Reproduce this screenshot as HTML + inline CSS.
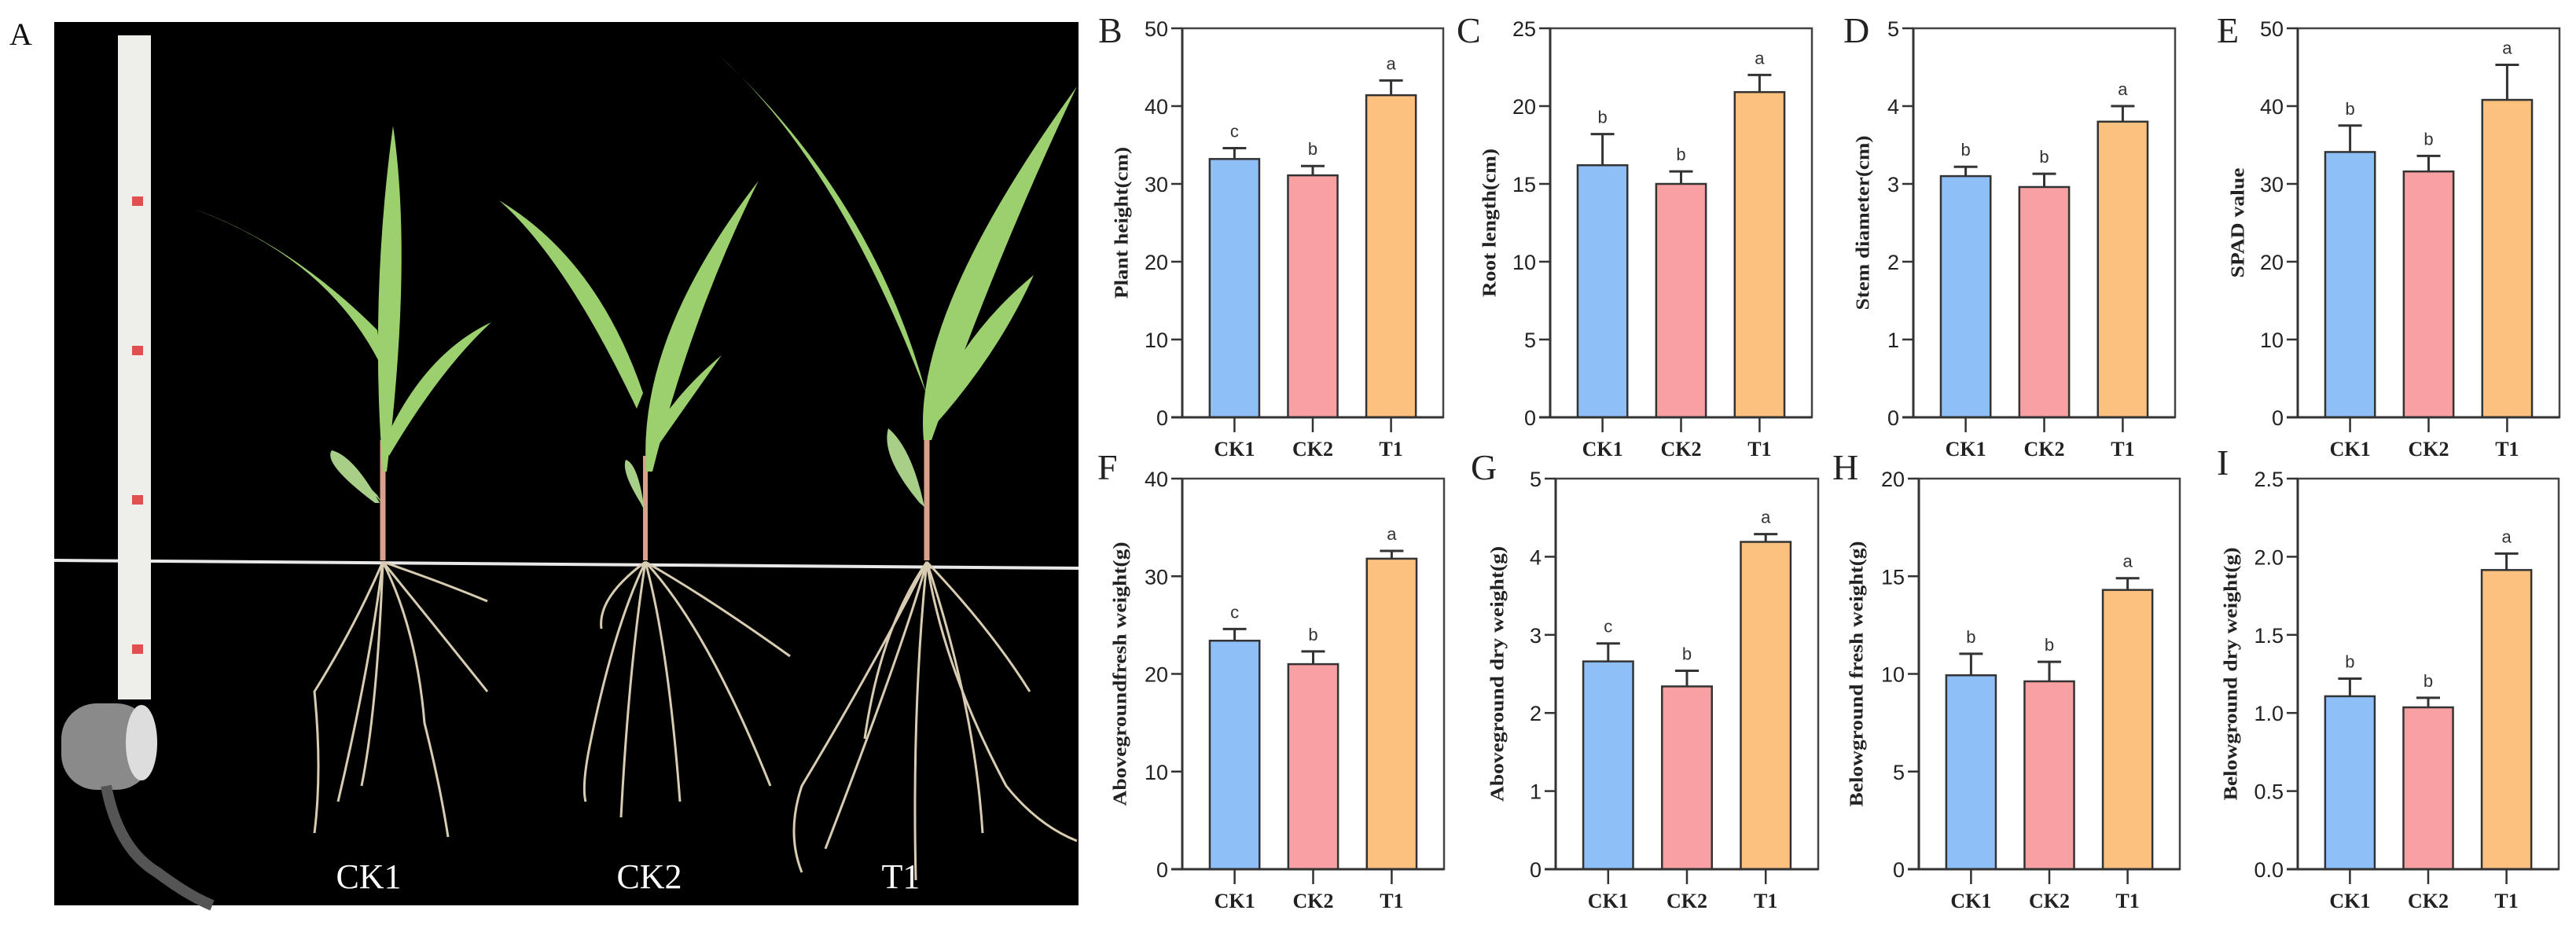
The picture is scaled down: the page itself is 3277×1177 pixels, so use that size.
<!DOCTYPE html>
<html><head><meta charset="utf-8"><style>
html,body{margin:0;padding:0;background:#fff;}
svg{display:block;}
</style></head>
<body>
<svg id="fig" width="3277" height="1177" viewBox="0 0 3277 1177" xmlns="http://www.w3.org/2000/svg">
  <rect x="0" y="0" width="3277" height="1177" fill="#fff"/>
  <!-- Panel A photo -->
  <g>
    <text x="12" y="57" font-family="Liberation Serif, serif" font-size="40" fill="#111">A</text>
    <rect x="69" y="28" width="1303" height="1124" fill="#000"/>
    <line x1="69" y1="713" x2="1372" y2="723" stroke="#e8e8e8" stroke-width="4"/>
    <g>
      <rect x="150" y="45" width="42" height="845" fill="#eeeeea"/>
      <rect x="168" y="250" width="14" height="12" fill="#e05050"/>
      <rect x="168" y="440" width="14" height="12" fill="#e05050"/>
      <rect x="168" y="630" width="14" height="12" fill="#e05050"/>
      <rect x="168" y="820" width="14" height="12" fill="#e05050"/>
      <rect x="78" y="895" width="115" height="110" rx="45" fill="#8a8a8a"/>
      <ellipse cx="180" cy="945" rx="20" ry="48" fill="#ddd"/>
      <path d="M135 1000 Q150 1080 200 1110 Q240 1140 270 1152" stroke="#555" stroke-width="14" fill="none"/>
    </g>
    <g fill="#9ccf6e">
      <path d="M487 713 L487 560" stroke="#d9a08a" stroke-width="7"/>
      <path d="M487 600 Q470 380 500 160 Q525 330 492 600 Z"/>
      <path d="M487 470 Q420 330 247 266 Q370 310 480 420 Z"/>
      <path d="M490 560 Q540 450 625 410 Q560 470 495 580 Z"/>
      <path d="M480 630 Q420 570 425 575 Q450 600 486 640 Z" fill="#a7cf88"/>
      <path d="M477 640 Q410 590 422 573 Q450 580 483 640 Z" fill="#a7cf88"/>
    </g>
    <g fill="#9ccf6e">
      <path d="M821 713 L821 580" stroke="#d9a08a" stroke-width="6"/>
      <path d="M822 600 Q810 430 965 230 Q880 400 830 600 Z"/>
      <path d="M818 500 Q760 330 635 255 Q720 330 810 520 Z"/>
      <path d="M825 560 Q860 500 918 452 Q870 520 828 580 Z"/>
      <path d="M815 640 Q790 600 796 585 Q812 590 820 650 Z" fill="#a7cf88"/>
    </g>
    <g fill="#9ccf6e">
      <path d="M1179 713 L1179 560" stroke="#d9a08a" stroke-width="7"/>
      <path d="M1175 560 Q1160 400 1370 110 Q1270 320 1185 560 Z"/>
      <path d="M1178 500 Q1110 250 912 68 Q1060 200 1170 480 Z"/>
      <path d="M1185 520 Q1230 420 1315 350 Q1270 450 1190 540 Z"/>
      <path d="M1170 640 Q1120 580 1130 545 Q1160 570 1176 645 Z" fill="#a7cf88"/>
    </g>
    <g stroke="#d8ccb2" stroke-width="3" fill="none">
      <path d="M487 715 Q450 800 400 880 Q410 980 400 1060"/>
      <path d="M487 715 Q470 850 430 1020"/>
      <path d="M487 715 Q530 800 540 920 Q560 1000 570 1065"/>
      <path d="M487 715 Q540 780 620 880"/>
      <path d="M487 715 Q560 740 620 765"/>
      <path d="M487 715 Q480 900 460 1000"/>
      <path d="M821 715 Q780 800 750 950 Q740 1000 745 1020"/>
      <path d="M821 715 Q800 850 790 1040"/>
      <path d="M821 715 Q850 820 865 1020"/>
      <path d="M821 715 Q900 800 980 1000"/>
      <path d="M821 715 Q900 760 1005 835"/>
      <path d="M821 715 Q760 760 765 800"/>
      <path d="M1179 715 Q1110 850 1020 1000 Q1000 1060 1020 1110"/>
      <path d="M1179 715 Q1160 900 1165 1120"/>
      <path d="M1179 715 Q1200 850 1280 1000 Q1320 1050 1370 1070"/>
      <path d="M1179 715 Q1260 800 1310 880"/>
      <path d="M1179 715 Q1120 800 1100 940"/>
      <path d="M1179 715 Q1240 900 1250 1060"/>
      <path d="M1179 715 Q1150 820 1050 1080"/>
    </g>
    <text x="469" y="1130" text-anchor="middle" font-family="Liberation Serif, serif" font-size="44" fill="#fff">CK1</text>
    <text x="826" y="1130" text-anchor="middle" font-family="Liberation Serif, serif" font-size="44" fill="#fff">CK2</text>
    <text x="1146" y="1130" text-anchor="middle" font-family="Liberation Serif, serif" font-size="44" fill="#fff">T1</text>
  </g>
  <g id="charts"></g>
</svg>
<script>
const categories = ["CK1", "CK2", "T1"];
const barColors = ["#8fbff7", "#f9a0a2", "#fdc17f"];

const valuesB = [33.2, 31.1, 41.4];
const errorsB = [1.4, 1.2, 1.9];
const lettersB = ["c", "b", "a"];
const ticksB = [0, 10, 20, 30, 40, 50];
const tickLabelsB = ["0", "10", "20", "30", "40", "50"];

const valuesC = [16.2, 15.0, 20.9];
const errorsC = [2.0, 0.8, 1.1];
const lettersC = ["b", "b", "a"];
const ticksC = [0, 5, 10, 15, 20, 25];
const tickLabelsC = ["0", "5", "10", "15", "20", "25"];

const valuesD = [3.1, 2.96, 3.8];
const errorsD = [0.12, 0.17, 0.2];
const lettersD = ["b", "b", "a"];
const ticksD = [0, 1, 2, 3, 4, 5];
const tickLabelsD = ["0", "1", "2", "3", "4", "5"];

const valuesE = [34.1, 31.6, 40.8];
const errorsE = [3.4, 2.0, 4.5];
const lettersE = ["b", "b", "a"];
const ticksE = [0, 10, 20, 30, 40, 50];
const tickLabelsE = ["0", "10", "20", "30", "40", "50"];

const valuesF = [23.4, 21.0, 31.8];
const errorsF = [1.2, 1.3, 0.8];
const lettersF = ["c", "b", "a"];
const ticksF = [0, 10, 20, 30, 40];
const tickLabelsF = ["0", "10", "20", "30", "40"];

const valuesG = [2.66, 2.34, 4.19];
const errorsG = [0.23, 0.2, 0.1];
const lettersG = ["c", "b", "a"];
const ticksG = [0, 1, 2, 3, 4, 5];
const tickLabelsG = ["0", "1", "2", "3", "4", "5"];

const valuesH = [9.93, 9.62, 14.3];
const errorsH = [1.1, 1.0, 0.6];
const lettersH = ["b", "b", "a"];
const ticksH = [0, 5, 10, 15, 20];
const tickLabelsH = ["0", "5", "10", "15", "20"];

const valuesI = [1.107, 1.036, 1.915];
const errorsI = [0.113, 0.061, 0.105];
const lettersI = ["b", "b", "a"];
const ticksI = [0, 0.5, 1.0, 1.5, 2.0, 2.5];
const tickLabelsI = ["0.0", "0.5", "1.0", "1.5", "2.0", "2.5"];

const NS = "http://www.w3.org/2000/svg";
const root = document.getElementById("charts");

function mk(tag, attrs, parent) {
  const e = document.createElementNS(NS, tag);
  for (const k in attrs) e.setAttribute(k, attrs[k]);
  parent.appendChild(e);
  return e;
}

function drawPanel(p) {
  const g = mk("g", {}, root);
  
  
  const W = p.x1 - p.x0, H = p.y1 - p.y0;
  const maxV = p.ticks[p.ticks.length - 1];
  const yS = v => p.y1 - v / maxV * H;
  const xS = i => p.x0 + W * (0.2 + 0.3 * i);
  const bw = W * 0.19;

  const lab = mk("text", {x: p.lx, y: p.ly, "font-family": "Liberation Serif, serif", "font-size": 46, fill: "#222"}, g);
  lab.textContent = p.id;
  
  

  // frame
  const fr = mk("rect", {x: p.x0, y: p.y0, width: W, height: H, fill: "none", stroke: "#444", "stroke-width": 2.5}, g);
  
  

  // bars
  p.values.forEach((v, i) => {
    const cx = xS(i);
    const bar = mk("rect", {x: cx - bw / 2, y: yS(v), width: bw, height: p.y1 - yS(v), fill: barColors[i], stroke: "#333", "stroke-width": 2.5}, g);
    
    
    const top = yS(v + p.errors[i]);
    const eb = mk("path", {d: `M${cx} ${yS(v)} V${top} M${cx - 15} ${top} H${cx + 15}`, stroke: "#333", "stroke-width": 3, fill: "none"}, g);
    
    
    const t = mk("text", {x: cx, y: top - 14, "text-anchor": "middle", "font-family": "Liberation Sans, sans-serif", "font-size": 22, fill: "#333"}, g);
    t.textContent = p.letters[i];
    
    
    const tk = mk("line", {x1: cx, y1: p.y1, x2: cx, y2: p.y1 + 19, stroke: "#333", "stroke-width": 2.5}, g);
    
    
    const ct = mk("text", {x: cx, y: p.y1 + 49, "text-anchor": "middle", "font-family": "Liberation Serif, serif", "font-weight": "bold", "font-size": 26, fill: "#222"}, g);
    ct.textContent = categories[i];
    
    
  });

  // axes
  const ax = mk("path", {d: `M${p.x0} ${p.y0} V${p.y1} M${p.x0 - 14} ${p.y1} H${p.x1}`, stroke: "#333", "stroke-width": 3, fill: "none"}, g);
  
  
  p.ticks.forEach((v, i) => {
    const y = yS(v);
    const tl = mk("line", {x1: p.x0 - 14, y1: y, x2: p.x0, y2: y, stroke: "#333", "stroke-width": 2.5}, g);
    
    
    const tt = mk("text", {x: p.x0 - 18, y: y + 10, "text-anchor": "end", "font-family": "Liberation Sans, sans-serif", "font-size": 27, fill: "#222"}, g);
    tt.textContent = p.tickLabels[i];
    
    
  });

  const tx = p.x0 - p.tOff, ty = (p.y0 + p.y1) / 2;
  const yt = mk("text", {x: tx, y: ty, "text-anchor": "middle", "font-family": "Liberation Serif, serif", "font-weight": "bold", "font-size": 24, fill: "#222", transform: `rotate(-90 ${tx} ${ty})`, textLength: p.tLen, lengthAdjust: "spacingAndGlyphs", "dominant-baseline": "middle"}, g);
  yt.textContent = p.title;
  
  
}

const T0 = 36, T1 = 531, B0 = 609, B1 = 1106;
drawPanel({id: "B", x0: 1504, x1: 1836, y0: T0, y1: T1, lx: 1397, ly: 54, values: valuesB, errors: errorsB, letters: lettersB, ticks: ticksB, tickLabels: tickLabelsB, title: "Plant height(cm)", tOff: 75, tLen: 193});
drawPanel({id: "C", x0: 1972, x1: 2305, y0: T0, y1: T1, lx: 1853, ly: 54, values: valuesC, errors: errorsC, letters: lettersC, ticks: ticksC, tickLabels: tickLabelsC, title: "Root length(cm)", tOff: 75, tLen: 189});
drawPanel({id: "D", x0: 2434, x1: 2767, y0: T0, y1: T1, lx: 2345, ly: 54, values: valuesD, errors: errorsD, letters: lettersD, ticks: ticksD, tickLabels: tickLabelsD, title: "Stem diameter(cm)", tOff: 62, tLen: 222});
drawPanel({id: "E", x0: 2923, x1: 3256, y0: T0, y1: T1, lx: 2820, ly: 54, values: valuesE, errors: errorsE, letters: lettersE, ticks: ticksE, tickLabels: tickLabelsE, title: "SPAD value", tOff: 74, tLen: 140});
drawPanel({id: "F", x0: 1504, x1: 1837, y0: B0, y1: B1, lx: 1396, ly: 610, values: valuesF, errors: errorsF, letters: lettersF, ticks: ticksF, tickLabels: tickLabelsF, title: "Abovegroundfresh weight(g)", tOff: 77, tLen: 336});
drawPanel({id: "G", x0: 1979, x1: 2313, y0: B0, y1: B1, lx: 1871, ly: 610, values: valuesG, errors: errorsG, letters: lettersG, ticks: ticksG, tickLabels: tickLabelsG, title: "Aboveground dry weight(g)", tOff: 72, tLen: 325});
drawPanel({id: "H", x0: 2441, x1: 2773, y0: B0, y1: B1, lx: 2331, ly: 610, values: valuesH, errors: errorsH, letters: lettersH, ticks: ticksH, tickLabels: tickLabelsH, title: "Belowground fresh weight(g)", tOff: 77, tLen: 338});
drawPanel({id: "I", x0: 2923, x1: 3255, y0: B0, y1: B1, lx: 2820, ly: 604, values: valuesI, errors: errorsI, letters: lettersI, ticks: ticksI, tickLabels: tickLabelsI, title: "Belowground dry weight(g)", tOff: 83, tLen: 322});
</script>
</body></html>
